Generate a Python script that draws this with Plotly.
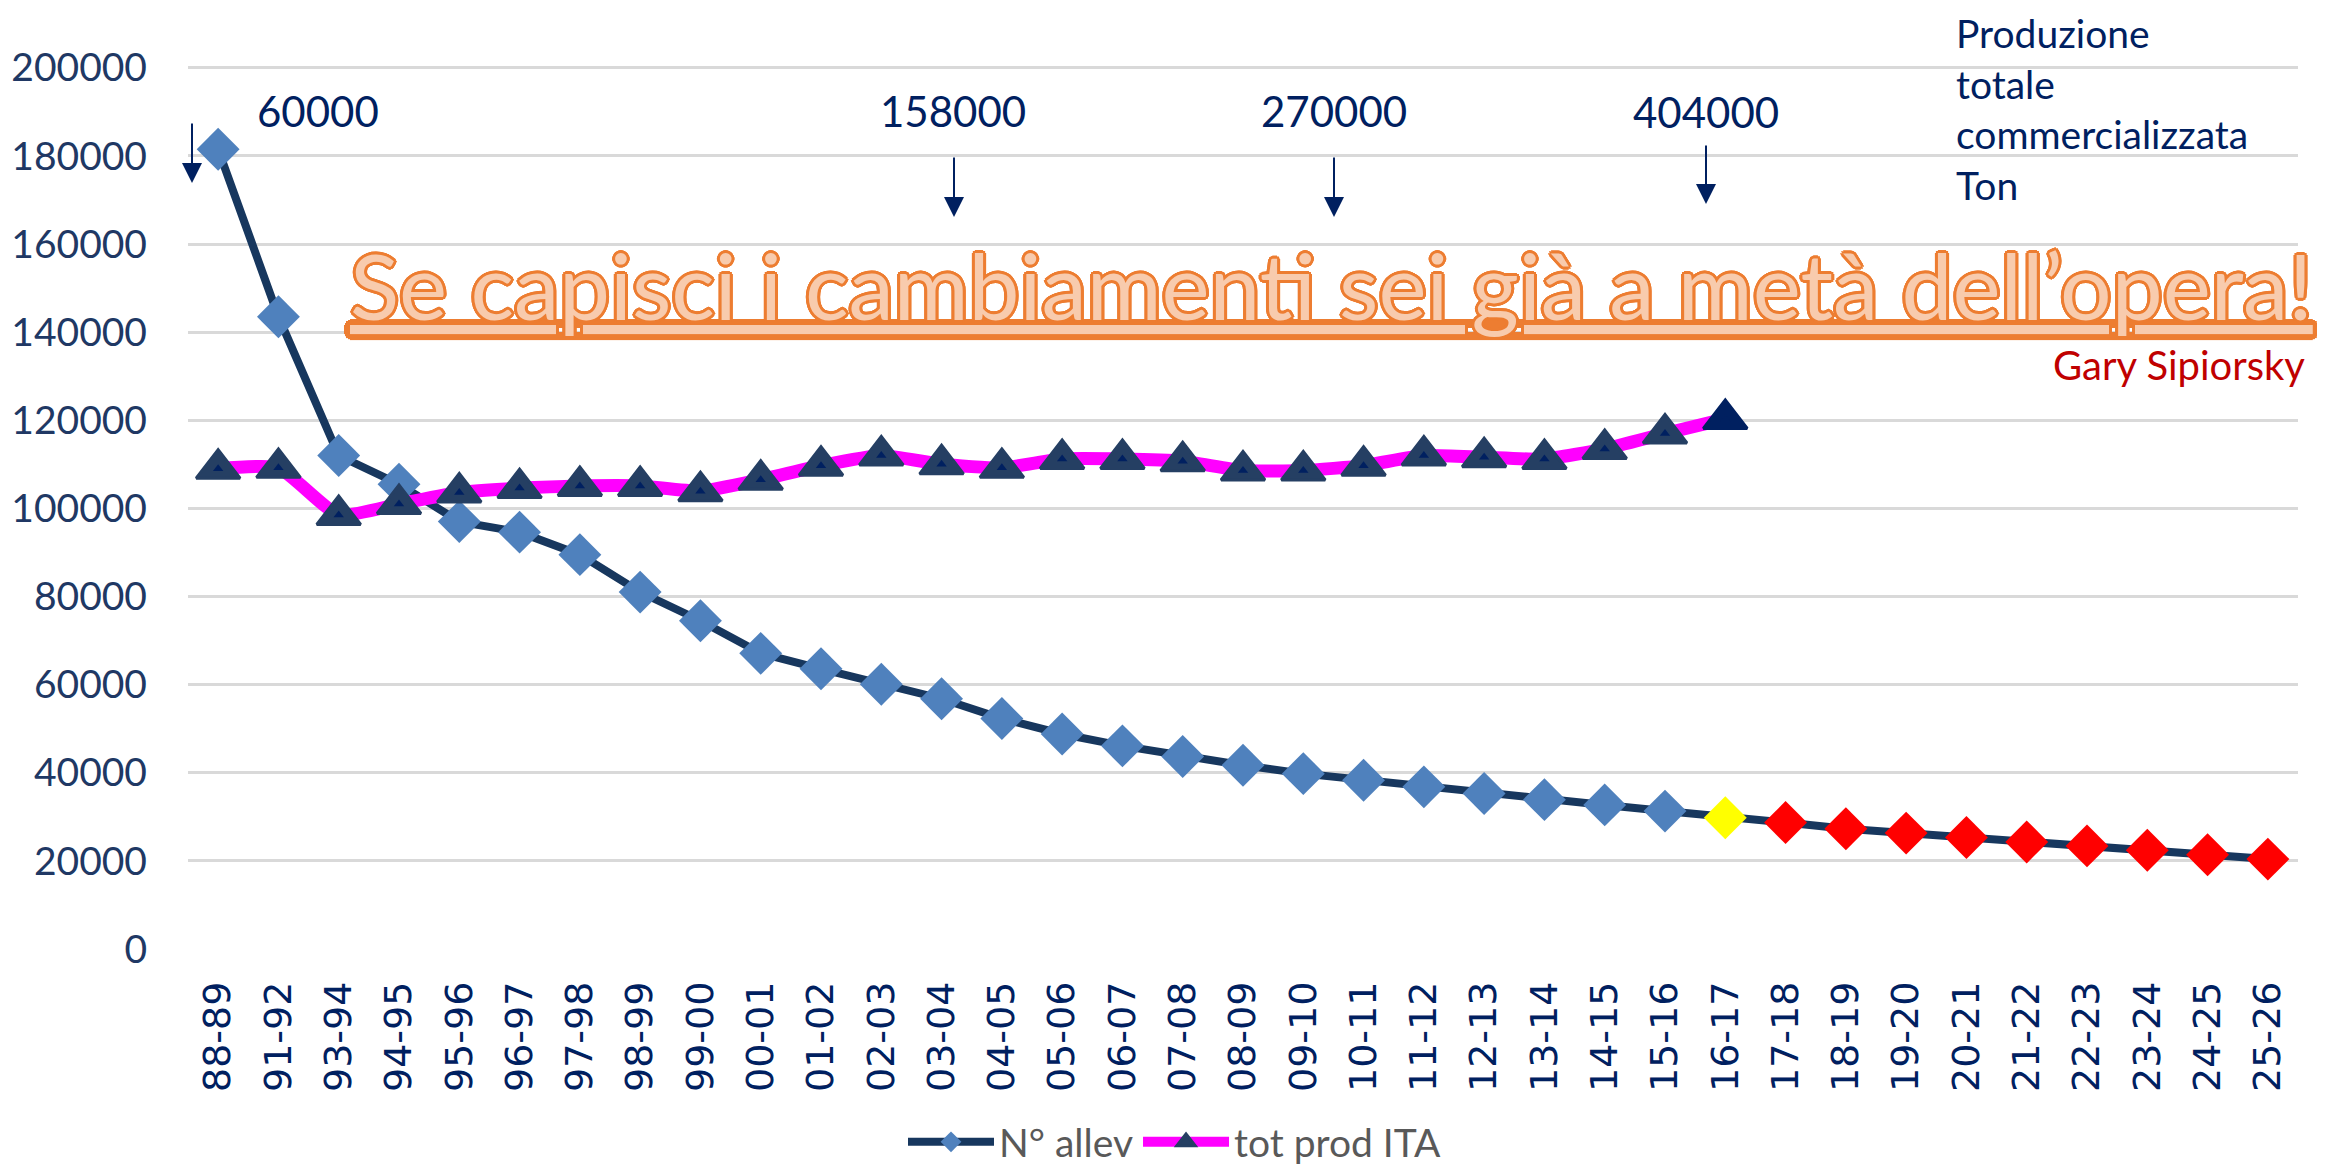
import plotly.graph_objects as go

# ---------------- data ----------------
categories = ["88-89", "91-92", "93-94", "94-95", "95-96", "96-97", "97-98", "98-99",
              "99-00", "00-01", "01-02", "02-03", "03-04", "04-05", "05-06", "06-07",
              "07-08", "08-09", "09-10", "10-11", "11-12", "12-13", "13-14", "14-15",
              "15-16", "16-17", "17-18", "18-19", "19-20", "20-21", "21-22", "22-23",
              "23-24", "24-25", "25-26"]

n_allev = [181500, 143500, 112000, 105500, 97000, 94600, 89500, 81000, 74500, 67100,
           63600, 60100, 56800, 52300, 48800, 46100, 43700, 41700, 39800, 38300,
           36800, 35300, 33900, 32700, 31300, 29800, 28700, 27300, 26300, 25300,
           24300, 23400, 22400, 21400, 20400]

tot_prod_ita = [109000, 109200, 98500, 101000, 103600, 104600, 105100, 105100, 103900,
                106500, 109700, 112000, 110000, 109200, 111200, 111200, 110700, 108600,
                108600, 109700, 112000, 111600, 111200, 113500, 117000, 120300]

current_season = "16-17"

marker_labels = ["60000", "158000", "270000", "404000"]
y_ticks = [0, 20000, 40000, 60000, 80000, 100000, 120000, 140000, 160000, 180000, 200000]

# ---------------- styling helpers ----------------
# the page body adds an 8px margin; size the figure so it fills the window
OFF = 8
SW, SH = 2325, 1168            # screenshot size
W, H = SW - OFF, SH - OFF      # figure size
# plot area in screenshot pixels
SPL, SPR, SPT, SPB = 188, 2298, 66, 949


def px(x):
    return (x - SPL) / (SPR - SPL)


def py(y):
    return (SPB - y) / (SPB - SPT)


cur_idx = categories.index(current_season)
diamond_colors = []
for i, c in enumerate(categories):
    if i < cur_idx:
        diamond_colors.append("#4F81BD")
    elif i == cur_idx:
        diamond_colors.append("#FFFF00")
    else:
        diamond_colors.append("#FF0000")

tri_colors = ["#253F63"] * (len(tot_prod_ita) - 1) + ["#002060"]

fig = go.Figure()

fig.add_trace(go.Scatter(
    x=categories, y=n_allev, name="N° allev", mode="lines+markers",
    line=dict(color="#17375E", width=8),
    marker=dict(symbol="diamond", size=33, color=diamond_colors, line=dict(width=0)),
))

fig.add_trace(go.Scatter(
    x=categories[:len(tot_prod_ita)], y=tot_prod_ita, name="tot prod ITA",
    mode="lines+markers",
    line=dict(color="#FF00FF", width=13, shape="spline", smoothing=0.5),
    marker=dict(symbol="triangle-up", size=38, color=tri_colors,
                line=dict(color=tri_colors, width=3)),
))

fig.add_trace(go.Scatter(
    x=categories[:len(tot_prod_ita)], y=tot_prod_ita, mode="markers",
    marker=dict(symbol="triangle-up", size=9, color="#002060"),
    showlegend=False, hoverinfo="skip",
))

navy = "#002060"
annotations = []

# numbers with arrows
label_pos = [(318, 111), (953, 111), (1334, 111), (1706, 112)]
arrow_pos = [(192, 122, 183), (954, 156, 217), (1334, 156, 217), (1706, 144, 204)]
for txt, (lx, ly) in zip(marker_labels, label_pos):
    annotations.append(dict(text=txt, x=px(lx), y=py(ly), xref="paper", yref="paper",
                            xanchor="center", yanchor="middle", showarrow=False,
                            font=dict(family="Lato", size=42, color=navy)))
for (axx, y0, y1) in arrow_pos:
    annotations.append(dict(text="", x=px(axx), y=py(y1), xref="paper", yref="paper",
                            ax=0, ay=-(y1 - y0), showarrow=True, arrowhead=2,
                            arrowsize=2, arrowwidth=2, arrowcolor=navy, standoff=0))

# units note
annotations.append(dict(text="Produzione<br>totale<br>commercializzata<br>Ton",
                        x=px(1954), y=py(109), xref="paper", yref="paper",
                        xanchor="left", yanchor="middle", align="left", showarrow=False,
                        font=dict(family="Lato", size=39, color=navy)))

# quote
outline = ", ".join(f"{dx}px {dy}px 0 #ED7D31" for dx, dy in
                    [(-3, 0), (3, 0), (0, -3), (0, 3), (-2, -2), (2, -2), (-2, 2), (2, 2)])
annotations.append(dict(text="Se capisci i cambiamenti sei già a metà dell’opera!",
                        x=px(1331), y=py(284), xref="paper", yref="paper",
                        xanchor="center", yanchor="middle", showarrow=False,
                        font=dict(family="Lato", size=91, color="#F8CBAD",
                                  shadow=outline, lineposition="under")))
annotations.append(dict(text="Gary Sipiorsky", x=px(2307), y=py(365),
                        xref="paper", yref="paper", xanchor="right", yanchor="middle",
                        showarrow=False, font=dict(family="Lato", size=40, color="#C00000")))

fig.update_layout(
    width=W, height=H,
    margin=dict(l=SPL - OFF, r=SW - SPR, t=SPT - OFF, b=SH - SPB),
    paper_bgcolor="white", plot_bgcolor="white",
    showlegend=True,
    legend=dict(orientation="h", xref="container", yref="container",
                x=(1175 - OFF) / W, xanchor="center", y=(SH - 1142) / H, yanchor="middle",
                font=dict(family="Lato", size=39, color="#595959"),
                bgcolor="rgba(0,0,0,0)", itemwidth=86),
    annotations=annotations,
    xaxis=dict(type="category", range=[-0.5, len(categories) - 0.5], showgrid=False,
               zeroline=False, showline=False, tickangle=-90, ticks="",
               tickfont=dict(family="DejaVu Sans", size=38, color=navy),
               ticklabelstandoff=24, automargin=False),
    yaxis=dict(range=[0, 200400], tickvals=y_ticks, tickformat="d",
               gridcolor="#D9D9D9", gridwidth=3, zeroline=False, showline=False, ticks="",
               tickfont=dict(family="Lato", size=39, color="#203864"),
               ticklabelstandoff=40, automargin=False),
)

fig.write_html("out.html")
